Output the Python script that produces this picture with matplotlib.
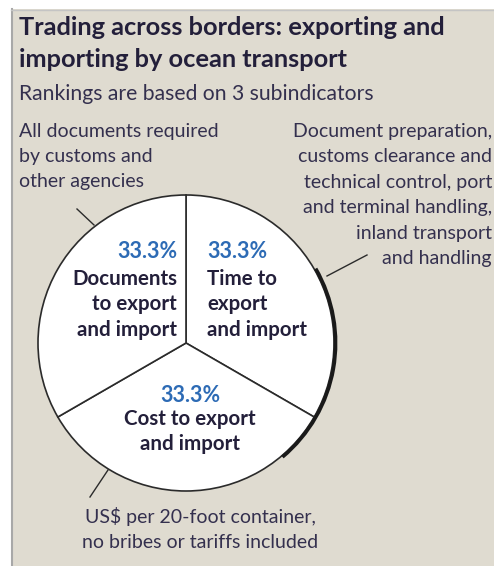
import matplotlib
matplotlib.use('Agg')
import matplotlib.pyplot as plt
from matplotlib.patches import Rectangle, Arc

# donnees du graphique
shares = [33.3, 33.3, 33.3]
slice_names = ['Time to\nexport\nand import', 'Cost to export\nand import', 'Documents\nto export\nand import']
pct_labels = ['33.3%', '33.3%', '33.3%']
notes = ['Document preparation,\ncustoms clearance and\ntechnical control, port\nand terminal handling,\ninland transport\nand handling',
         'US$ per 20-foot container,\nno bribes or tariffs included',
         'All documents required\nby customs and\nother agencies']

title = 'Trading across borders: exporting and\nimporting by ocean transport'
subtitle = 'Rankings are based on 3 subindicators'

W, H = 494, 566
bg = '#dfdbd0'
txt = '#34304e'
dark = '#231f3a'
blue = '#2d6bb5'
plt.rcParams['font.family'] = ['Lato', 'DejaVu Sans']

fig = plt.figure(figsize=(W / 100, H / 100), dpi=100)
ax = fig.add_axes([0, 0, 1, 1])

def Y(y):
    # coordonnees image -> coordonnees axes
    return H - y

def lines(x, y0, step, s, **kw):
    # une ligne de texte par ligne, a partir de la ligne de base y0
    for i, l in enumerate(s.split('\n')):
        ax.text(x, Y(y0 + i * step), l, va='baseline', **kw)

# camembert
cx, cy, r = 186, Y(343), 148
wedges, _ = ax.pie(shares, startangle=90, counterclock=False, center=(cx, cy), radius=r,
                   colors=['white'] * 3,
                   wedgeprops=dict(edgecolor='#2b2b2b', linewidth=1.2, zorder=2))
ax.set_aspect('equal')
ax.set_xlim(0, W)
ax.set_ylim(0, H)
ax.axis('off')
ax.add_patch(Arc((cx + 0.8, cy), 2 * r + 1.6, 2 * r + 1.6, theta1=-50, theta2=30,
                 color='#1a1a1a', lw=2.6, zorder=3))

# fond beige avec bordure grise
ax.add_patch(Rectangle((11, 0), W - 11, Y(9), facecolor=bg, edgecolor='none', zorder=0))
ax.plot([11.5, 11.5], [0, Y(9)], color='#a8a8a8', lw=1.5, zorder=1)
ax.plot([11, W], [Y(9.5), Y(9.5)], color='#c4c4c4', lw=1, zorder=1)

lines(19, 35, 32, title, fontsize=18.3, fontweight='bold', color=dark, ha='left')
lines(19, 100, 0, subtitle, fontsize=15.2, color=txt, ha='left')

# etiquettes des parts
bold = dict(fontsize=14.8, fontweight='bold', color=dark)
pct = dict(fontsize=15.5, fontweight='bold', color=blue)
ax.text(207, Y(258), pct_labels[0], ha='left', va='baseline', **pct)
lines(207, 285, 25.5, slice_names[0], ha='left', **bold)
ax.text(177, Y(258), pct_labels[2], ha='right', va='baseline', **pct)
lines(177, 285, 25.5, slice_names[2], ha='right', **bold)
ax.text(190, Y(402), pct_labels[1], ha='center', va='baseline', **pct)
lines(190, 425, 25, slice_names[1], ha='center', **bold)

# notes et traits de rappel
lines(492, 137, 25.4, notes[0], fontsize=14, color=txt, ha='right')
lines(200, 523, 25, notes[1], fontsize=14, color=txt, ha='center')
lines(19, 137, 25, notes[2], fontsize=14, color=txt, ha='left')

ax.plot([77, 94], [Y(209), Y(225)], color='#2b2b2b', lw=1)
ax.plot([327, 367], [Y(276), Y(255)], color='#2b2b2b', lw=1)
ax.plot([108, 90], [Y(470), Y(497)], color='#2b2b2b', lw=1)

fig.savefig('out.png', dpi=100, facecolor='white')
